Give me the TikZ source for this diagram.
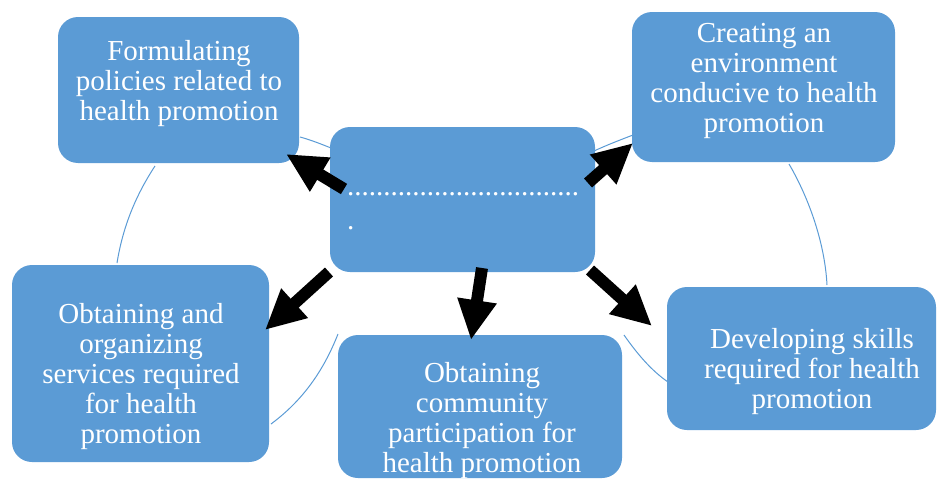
\documentclass[tikz,border=0pt]{standalone}
\usepackage{fontspec}
\setmainfont{Liberation Serif}
\usetikzlibrary{arrows.meta}
\definecolor{boxblue}{HTML}{5B9BD5}
\definecolor{arcblue}{HTML}{5B9BD5}
\tikzset{
  box/.style={rectangle, rounded corners=20pt, fill=boxblue, draw=none, inner sep=0pt},
  txt/.style={text=white, align=center, anchor=base, inner sep=0pt, font=\fontsize{29}{30}\selectfont},
  ring/.style={draw=arcblue, line width=1pt},
  bigarrow/.style={draw=black, line width=12pt, -{Triangle[width=37pt,length=40pt]}},
}
\begin{document}
\begin{tikzpicture}[x=1pt,y=-1pt]
\useasboundingbox (0,0) rectangle (937,479);
% ring arcs
\coordinate (r1a) at (300,137); \coordinate (r1b) at (331,148);
\coordinate (r2a) at (594,151); \coordinate (r2b) at (633,135);
\coordinate (r3a) at (789,164); \coordinate (r3b) at (827,285);
\coordinate (r4a) at (624,335); \coordinate (r4b) at (668,382);
\coordinate (r5a) at (338,334); \coordinate (r5b) at (271,424);
\coordinate (r6a) at (117,263); \coordinate (r6b) at (155,166);
\draw[ring] (r1a) .. controls (311,140) and (321,144) .. (r1b);
\draw[ring] (r2a) .. controls (607,145) and (620,140) .. (r2b);
\draw[ring] (r3a) .. controls (810,200) and (825,245) .. (r3b);
\draw[ring] (r4a) .. controls (638,355) and (652,371) .. (r4b);
\draw[ring] (r5a) .. controls (323,372) and (302,401) .. (r5b);
\draw[ring] (r6a) .. controls (123,226) and (136,195) .. (r6b);
% boxes
\node[box, minimum width=241pt, minimum height=146pt] (tl) at (178.5,90) {};
\node[box, minimum width=263pt, minimum height=150pt] (tr) at (763.5,87) {};
\node[box, minimum width=269pt, minimum height=143pt] (rt) at (801.5,358.5) {};
\node[box, minimum width=257pt, minimum height=197pt] (lf) at (140.5,363.5) {};
\node[box, minimum width=284pt, minimum height=143pt] (bt) at (480,406.5) {};
\node[box, minimum width=265pt, minimum height=145pt] (ct) at (462.5,199.5) {};
% texts (anchor = baseline of last line)
\node[txt] (tltext) at (179,120) {Formulating\\policies related to\\health promotion};
\node[txt] (trtext) at (764,132) {Creating an\\environment\\conducive to health\\promotion};
\node[txt] (rttext) at (812,408) {Developing skills\\required for health\\promotion};
\node[txt] (lftext) at (141,443) {Obtaining and\\organizing\\services required\\for health\\promotion};
\node[txt] (bttext) at (482,472) {Obtaining\\community\\participation for\\health promotion};
\node[txt, align=left, anchor=base west, font=\fontsize{29}{34}\selectfont] (cttext) at (347,229) {................................\\.};
% arrows
\coordinate (a1s) at (344,189); \coordinate (a1e) at (286,154);
\coordinate (a2s) at (588,183); \coordinate (a2e) at (633,143);
\coordinate (a3s) at (329,272); \coordinate (a3e) at (265,330);
\coordinate (a4s) at (482,268); \coordinate (a4e) at (471,340);
\coordinate (a5s) at (590,270); \coordinate (a5e) at (652,326);
\draw[bigarrow] (a1s) -- (a1e);
\draw[bigarrow] (a2s) -- (a2e);
\draw[bigarrow] (a3s) -- (a3e);
\draw[bigarrow] (a4s) -- (a4e);
\draw[bigarrow] (a5s) -- (a5e);
\end{tikzpicture}
\end{document}
